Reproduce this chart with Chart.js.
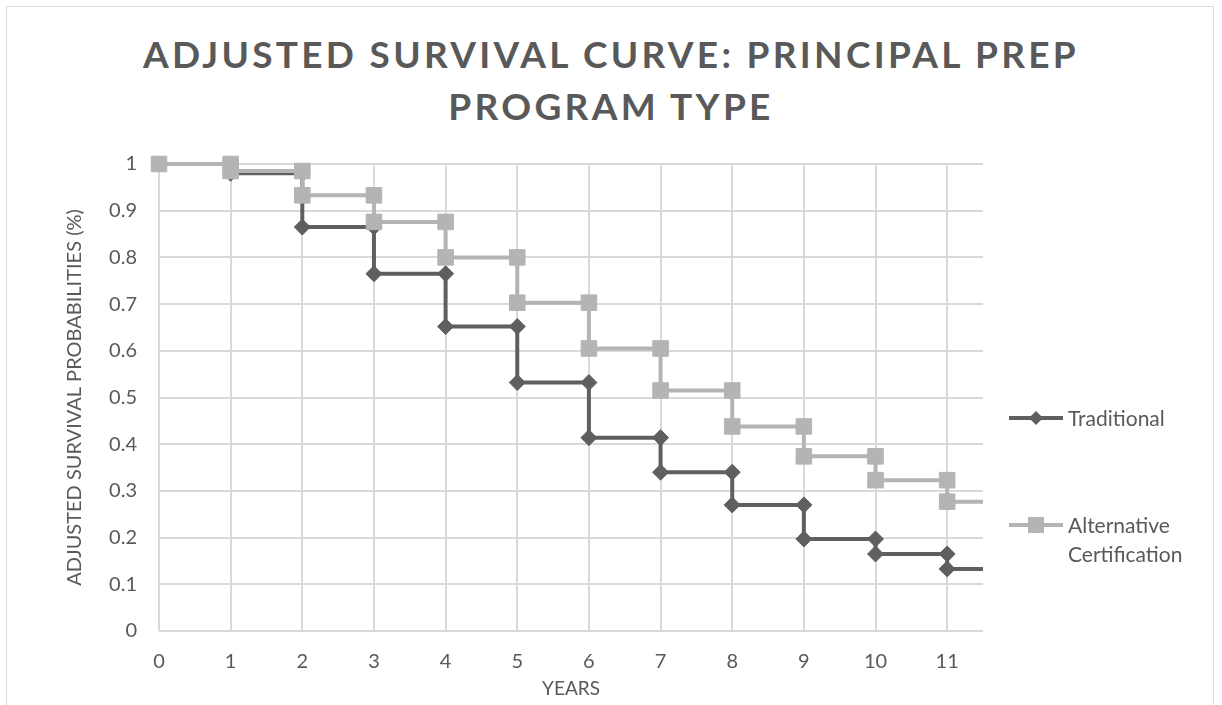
<!DOCTYPE html>
<html>
<head>
<meta charset="utf-8">
<script src="https://cdn.jsdelivr.net/npm/chart.js@4"></script>
<style>
  html, body { margin: 0; padding: 0; background: #fff; }
  body { width: 1222px; height: 705px; position: relative; overflow: hidden; font-family: Lato, "Open Sans", sans-serif; }
  #frame { position: absolute; left: 6px; top: 6px; width: 1206px; height: 760px; border: 1px solid #d9d9d9; }
  #wrap { position: absolute; left: 0; top: 0; width: 1222px; height: 705px; }
  h1 {
    position: absolute; left: 0; top: 28px; width: 1222px; margin: 0;
    text-align: center; font: bold 37px/52px Lato, "Open Sans", sans-serif;
    letter-spacing: 3.3px; color: #595959;
  }
  .legend { position: absolute; left: 1009px; color: #595959; font-size: 21px; }
  .legend .item { position: relative; padding-left: 59px; line-height: 29px; }
  .legend .line { position: absolute; left: 0; top: 13px; width: 54px; height: 4px; }
  .legend .mark { position: absolute; }
</style>
</head>
<body>
<div id="frame"></div>
<h1>ADJUSTED SURVIVAL CURVE: PRINCIPAL PREP<br>PROGRAM TYPE</h1>
<div id="wrap"><canvas id="myChart" width="1222" height="705"></canvas></div>
<div class="legend" style="top:403px">
  <div class="item"><div class="line" style="background:#5f5f5f"></div>
    <div class="mark" style="left:22px;top:10px;width:10px;height:10px;background:#5f5f5f;transform:rotate(45deg)"></div>Traditional</div>
</div>
<div class="legend" style="top:510px">
  <div class="item"><div class="line" style="background:#b4b4b4"></div>
    <div class="mark" style="left:19px;top:7px;width:16px;height:16px;background:#b4b4b4"></div>Alternative<br>Certification</div>
</div>
<script>
const years = [0, 1, 2, 3, 4, 5, 6, 7, 8, 9, 10, 11];
const traditional = [1, 0.98, 0.865, 0.765, 0.652, 0.532, 0.414, 0.34, 0.27, 0.197, 0.165, 0.133];
const alternative = [1, 0.985, 0.933, 0.876, 0.8, 0.703, 0.605, 0.515, 0.438, 0.374, 0.323, 0.277];
const yTicks = [0, 0.1, 0.2, 0.3, 0.4, 0.5, 0.6, 0.7, 0.8, 0.9, 1];
const xMax = 11.5;

// turn survival values into step points: at each year the curve holds the
// previous value, then drops to the new one; the last step runs to the axis end
function steps(values) {
  const pts = [];
  years.forEach((yr, i) => {
    if (i > 0) pts.push({ x: yr, y: values[i - 1] });
    pts.push({ x: yr, y: values[i] });
  });
  pts.push({ x: xMax, y: values[values.length - 1] });
  return pts;
}

const textColor = '#595959';
const gridColor = '#d9d9d9';

const ctx = document.getElementById('myChart');

new Chart(ctx, {
  type: 'scatter',
  data: {
    datasets: [{
      label: 'Traditional',
      data: steps(traditional),
      showLine: true,
      borderColor: '#5f5f5f',
      backgroundColor: '#5f5f5f',
      borderWidth: 4,
      pointStyle: 'rectRot',
      pointRadius: ctx => ctx.raw && ctx.raw.x === xMax ? 0 : 8,
      pointBorderWidth: 1,
      clip: false,
      order: 1
    }, {
      label: 'Alternative Certification',
      data: steps(alternative),
      showLine: true,
      borderColor: '#b4b4b4',
      backgroundColor: '#b4b4b4',
      borderWidth: 4,
      pointStyle: 'rect',
      pointRadius: ctx => ctx.raw && ctx.raw.x === xMax ? 0 : 11,
      pointBorderWidth: 1,
      clip: false,
      order: 0
    }]
  },
  options: {
    responsive: false,
    animation: false,
    layout: { padding: { top: 164, right: 239, bottom: 0, left: 0 } },
    plugins: {
      legend: { display: false },
      tooltip: { enabled: false }
    },
    scales: {
      x: {
        type: 'linear',
        min: 0,
        max: xMax,
        afterBuildTicks: scale => { scale.ticks = years.map(v => ({ value: v })); },
        afterFit: scale => { scale.height = 74; },
        grid: { color: gridColor, lineWidth: 2, drawTicks: false },
        border: { display: false },
        ticks: { color: textColor, font: { family: 'Lato', size: 20 }, padding: 19 },
        title: { display: true, text: 'YEARS', color: textColor, font: { family: 'Lato', size: 19 }, padding: { top: 0, bottom: 5 } }
      },
      y: {
        min: 0,
        max: 1,
        afterBuildTicks: scale => { scale.ticks = yTicks.map(v => ({ value: v })); },
        afterFit: scale => { scale.width = 159; },
        grid: { color: gridColor, lineWidth: 2, drawTicks: false },
        border: { display: false },
        ticks: { color: textColor, font: { family: 'Lato', size: 20 }, padding: 22, callback: v => String(+v.toFixed(1)) },
        title: { display: true, text: 'ADJUSTED SURVIVAL PROBABILITIES (%)', color: textColor, font: { family: 'Lato', size: 20 }, padding: { top: 63, bottom: 0 } }
      }
    }
  }
});
</script>
</body>
</html>
